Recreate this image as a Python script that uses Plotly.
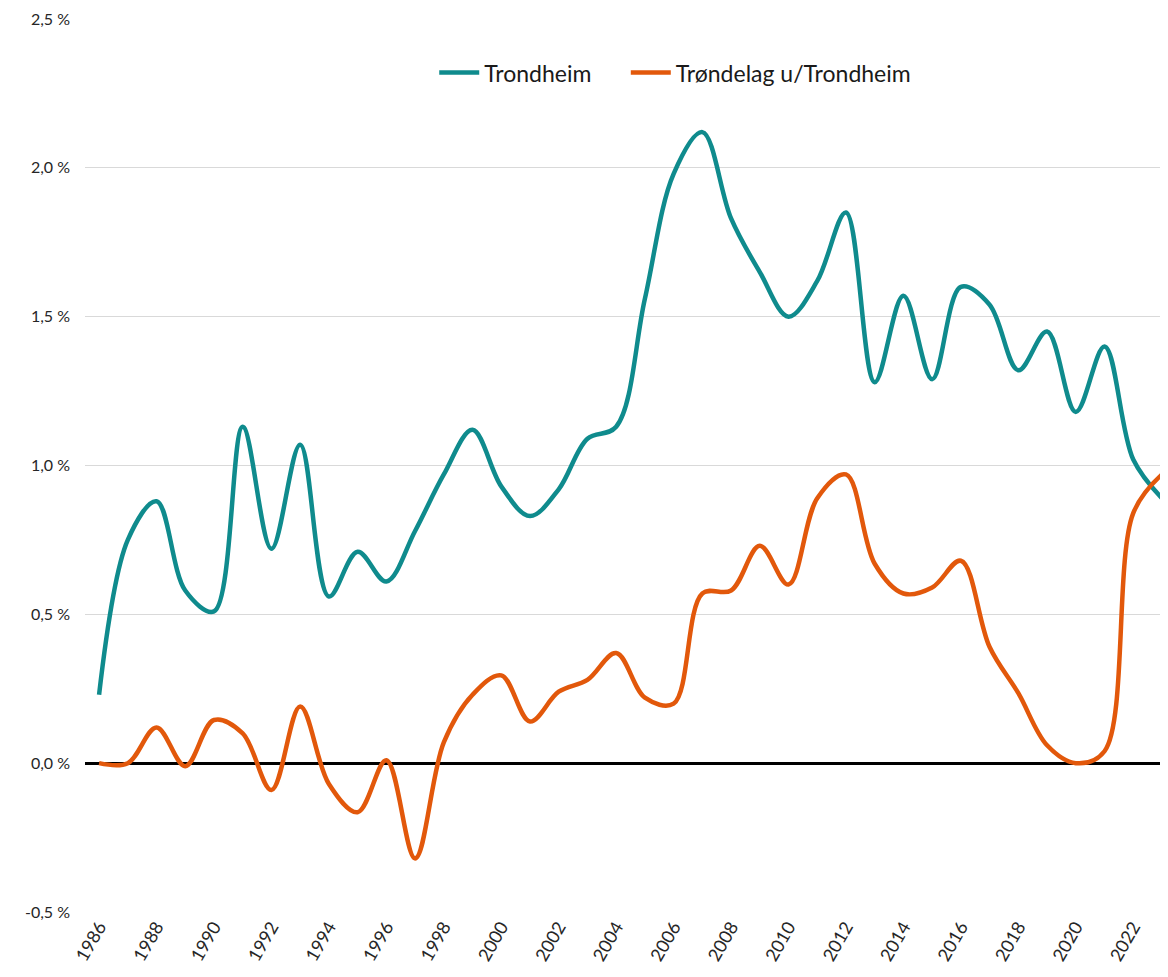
import plotly.graph_objects as go

years = list(range(1986, 2024))

trondheim = [0.23, 0.75, 0.88, 0.58, 0.51, 1.13, 0.72, 1.07, 0.56, 0.71,
             0.61, 0.78, 0.97, 1.12, 0.93, 0.83, 0.92, 1.09, 1.13, 1.56,
             1.98, 2.12, 1.83, 1.65, 1.50, 1.62, 1.85, 1.28, 1.57, 1.29,
             1.60, 1.54, 1.32, 1.45, 1.18, 1.40, 1.02, 0.89]

trondelag = [0.00, 0.00, 0.12, -0.01, 0.145, 0.10, -0.09, 0.19, -0.07, -0.165,
             0.01, -0.32, 0.07, 0.23, 0.295, 0.14, 0.24, 0.28, 0.37, 0.22,
             0.20, 0.57, 0.58, 0.73, 0.60, 0.89, 0.97, 0.67, 0.57, 0.59,
             0.68, 0.39, 0.235, 0.06, 0.00, 0.04, 0.84, 0.97]

series_names = ["Trondheim", "Trøndelag u/Trondheim"]
series_colors = ["#0F8B8D", "#E2580B"]

y_tickvals = [-0.5, 0.0, 0.5, 1.0, 1.5, 2.0, 2.5]
y_ticktext = ["-0,5 %", "0,0 %", "0,5 %", "1,0 %", "1,5 %", "2,0 %", "2,5 %"]
x_tickvals = list(range(1986, 2024, 2))

FONT = "Lato, 'Open Sans', sans-serif"
GAP = "\u00a0" * 5

fig = go.Figure()
for i, (name, vals, col) in enumerate(zip(series_names, [trondheim, trondelag], series_colors)):
    label = name + (GAP if i == 0 else "")
    fig.add_trace(go.Scatter(
        x=years, y=vals, name=label, mode="lines",
        line=dict(color=col, width=4.5, shape="spline", smoothing=1.0),
    ))

fig.update_layout(
    width=1160, height=969,
    margin=dict(l=77, r=0, t=11, b=65),
    plot_bgcolor="white", paper_bgcolor="white",
    font=dict(family=FONT, color="#262626"),
    showlegend=True,
    legend=dict(
        orientation="h", x=0.545, xanchor="center", y=0.94, yanchor="middle",
        font=dict(size=23, family=FONT, color="#1a1a1a"),
        bgcolor="rgba(0,0,0,0)", itemwidth=40, tracegroupgap=0,
    ),
    xaxis=dict(
        range=[1985.51, 2023.21],
        tickvals=x_tickvals, ticktext=[str(v) for v in x_tickvals],
        tickangle=-60, tickfont=dict(size=18, family=FONT, color="#262626"),
        showgrid=False, zeroline=False, showline=False, ticks="",
    ),
    yaxis=dict(
        range=[-0.5, 2.5],
        tickvals=y_tickvals, ticktext=y_ticktext,
        tickfont=dict(size=16, family=FONT, color="#262626"),
        showgrid=True, gridcolor="#D9D9D9", gridwidth=1,
        zeroline=True, zerolinecolor="black", zerolinewidth=3,
        showline=False, ticks="", ticklabelstandoff=14,
    ),
)

fig.write_html("out.html")
